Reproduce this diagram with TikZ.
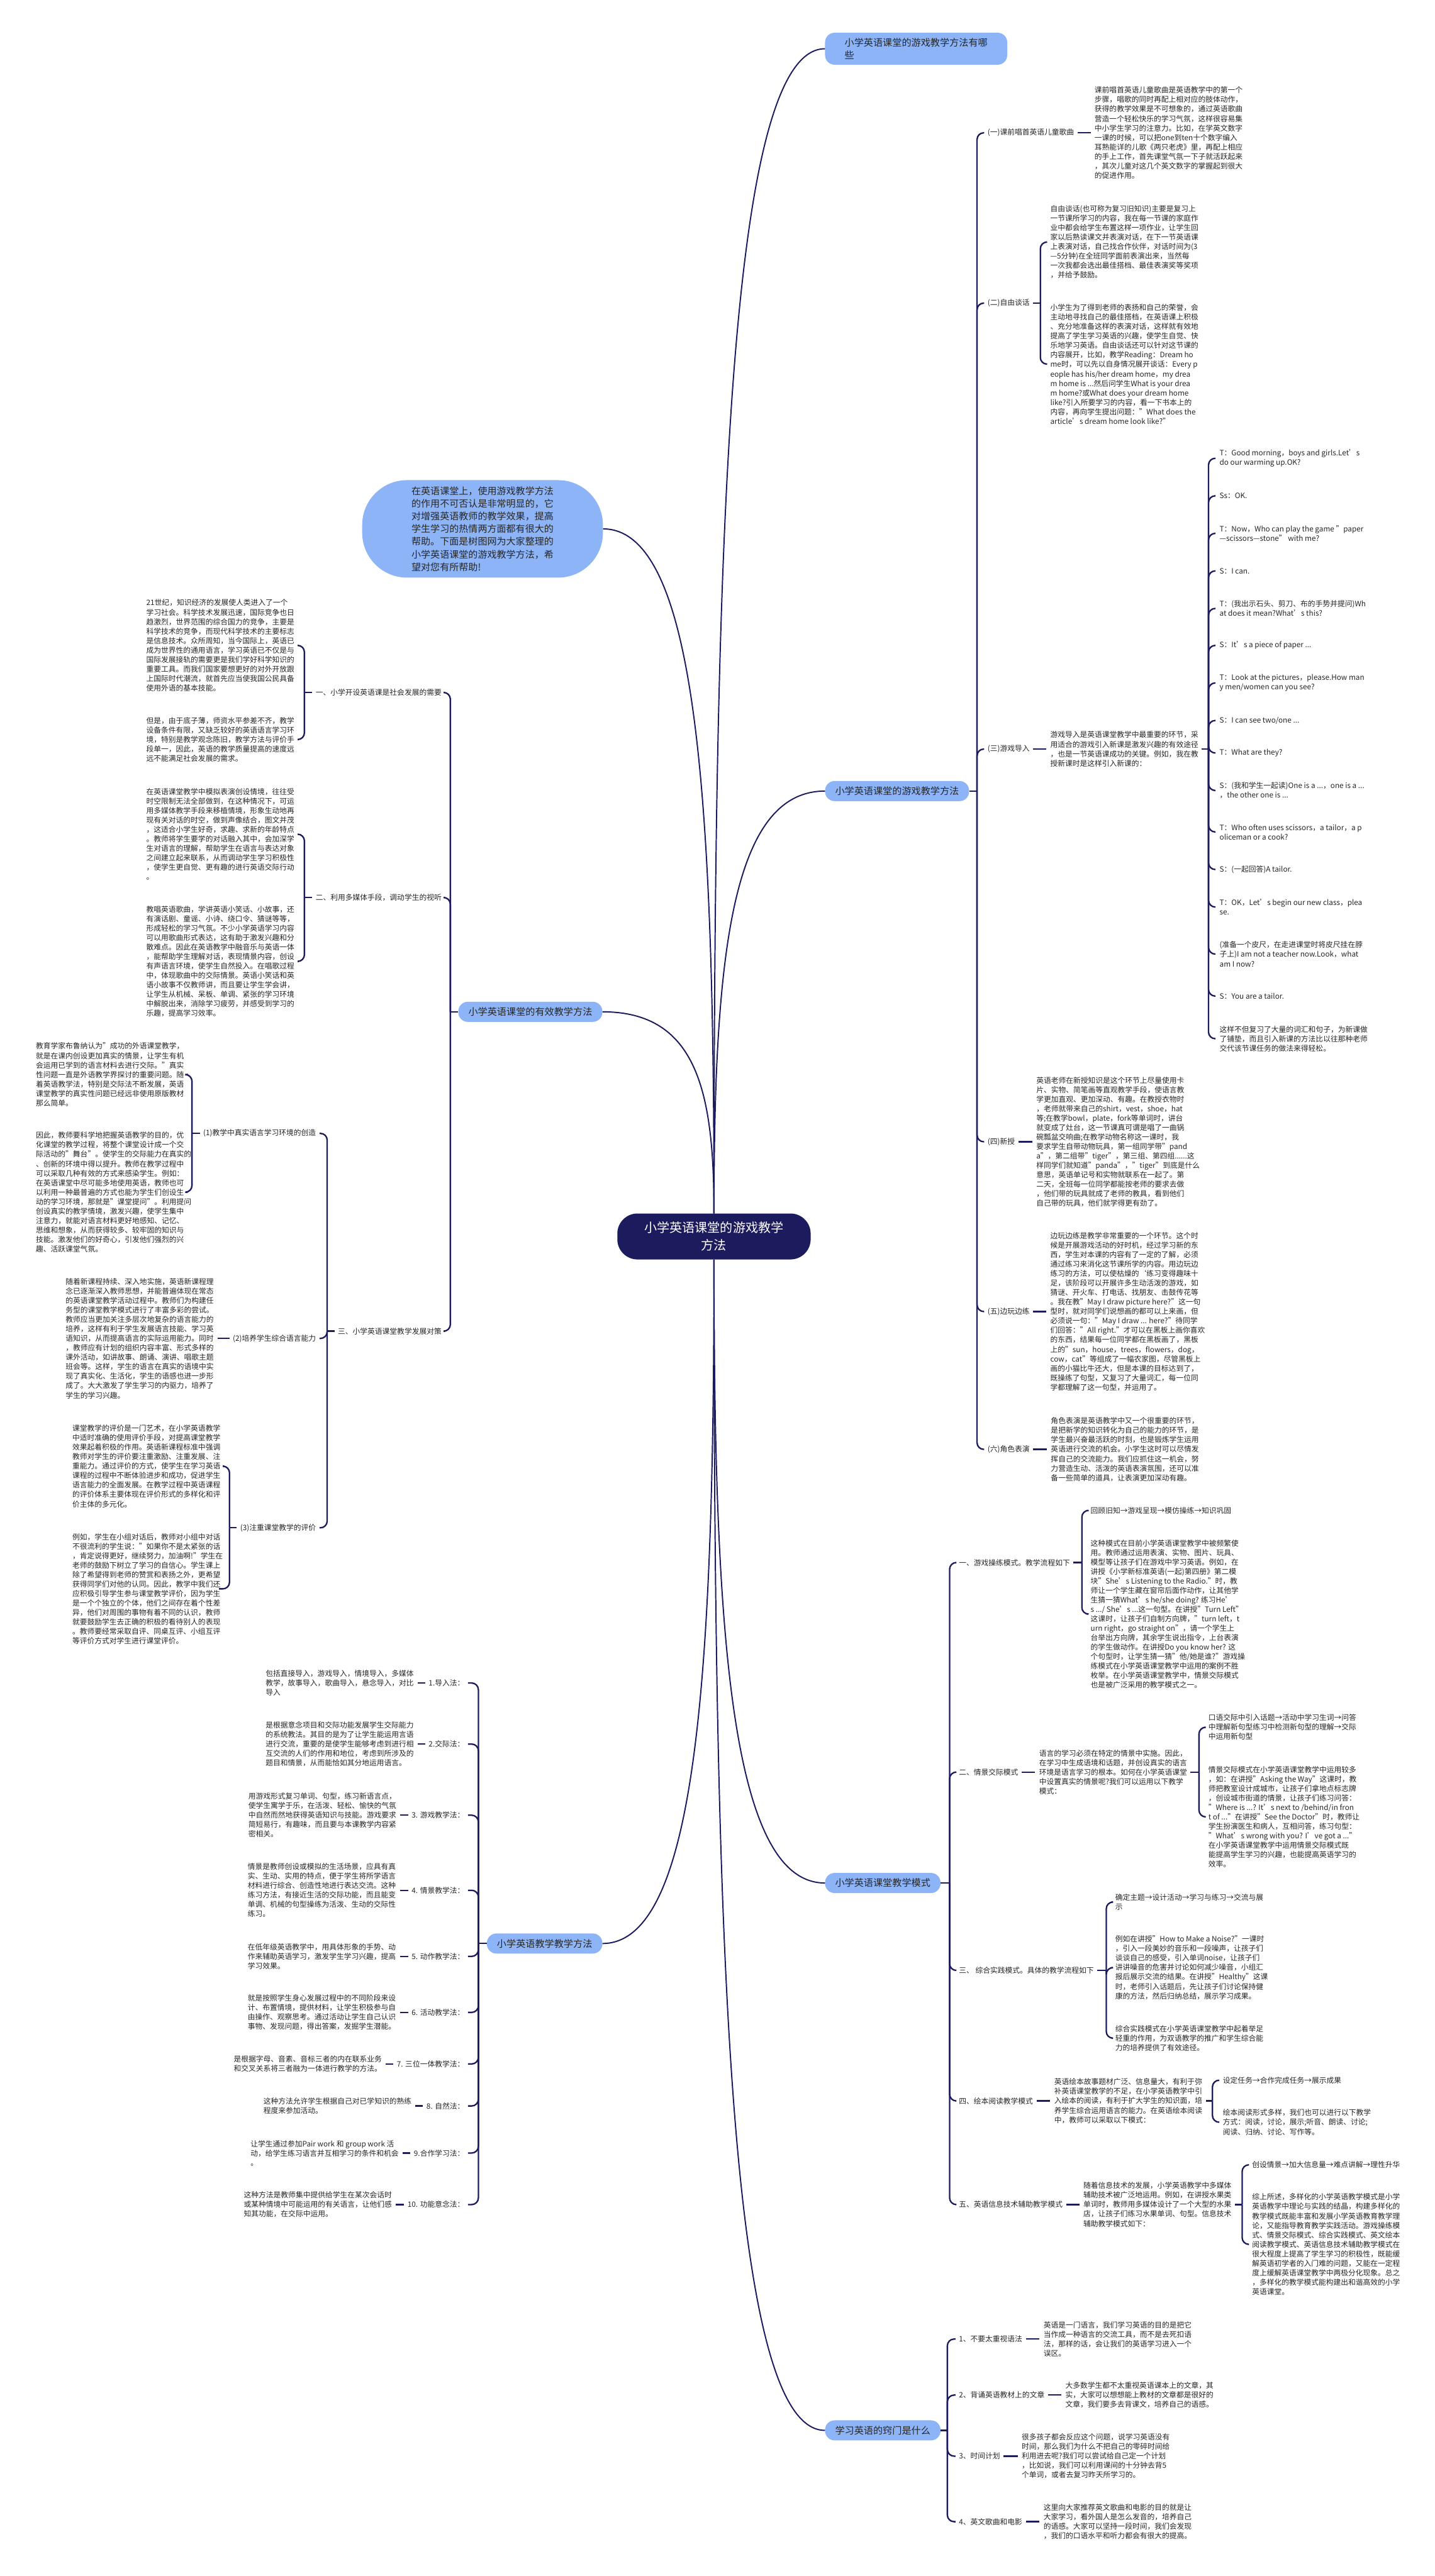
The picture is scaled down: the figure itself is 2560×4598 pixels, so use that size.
\documentclass[tikz,border=0pt]{standalone}
\usepackage{fontspec}
\setmainfont{Noto Sans CJK SC}
\usetikzlibrary{calc}
\definecolor{navy}{HTML}{1C1B5E}
\definecolor{topicblue}{HTML}{8DB4F7}
\newcommand{\leaffont}{\fontsize{13.2}{16.9}\selectfont}
\newcommand{\topicfont}{\fontsize{17}{21.7}\selectfont}
\newcommand{\branchto}[2]{\draw[branch] let \p1=(#1), \p2=(#2) in (\p1) .. controls (\x1,{0.4*\y1+0.6*\y2}) and ({0.85*\x1+0.15*\x2},\y2) .. (\p2);}
\tikzset{
    rootnode/.style={fill=navy, text=white, rounded corners=36pt, font=\fontsize{22.6}{31}\selectfont, align=center, minimum width=345pt, minimum height=82pt},
    topic/.style={fill=topicblue, rounded corners=17pt, font=\topicfont, inner xsep=18pt, inner ysep=10pt, text=black!85},
    callout/.style={fill=topicblue, rounded corners=80pt, font=\fontsize{16.9}{22.7}\selectfont, align=left, inner xsep=88pt, inner ysep=11pt, text=black!85},
    lbl/.style={font=\leaffont, inner sep=0pt, text=black!85},
    lblr/.style={lbl, anchor=west},
    lbll/.style={lbl, anchor=east},
    leaf/.style={font=\leaffont, align=left, inner sep=0pt, anchor=west, text=black!85},
    branch/.style={draw=navy, line width=2.2pt},
    fork/.style={draw=navy, line width=2.6pt, rounded corners=12pt},
    dashline/.style={fork, shorten <=6pt, shorten >=7pt},
}
\begin{document}
\begin{tikzpicture}[x=1pt,y=-1pt]
\useasboundingbox (0,0) rectangle (2560,4598);
\fill[white] (0,0) rectangle (2560,4598);

% centre and main topics
\node[rootnode] (root) at (1274,2207) {小学英语课堂的游戏教学\\方法};
\node[topic, anchor=west, align=left, inner xsep=35pt] (R1) at (1472,87) {小学英语课堂的游戏教学方法有哪\\些};
\node[topic, anchor=west] (R2) at (1472,1412) {小学英语课堂的游戏教学方法};
\node[topic, anchor=west] (R3) at (1472,3361) {小学英语课堂教学模式};
\node[topic, anchor=west] (R4) at (1472,4338) {学习英语的窍门是什么};
\node[callout, anchor=east] (L1) at (1076,944) {在英语课堂上，使用游戏教学方法\\的作用不可否认是非常明显的，它\\对增强英语教师的教学效果，提高\\学生学习的热情两方面都有很大的\\帮助。下面是树图网为大家整理的\\小学英语课堂的游戏教学方法，希\\望对您有所帮助!};
\node[topic, anchor=east] (L2) at (1075,1806) {小学英语课堂的有效教学方法};
\node[topic, anchor=east] (L3) at (1075,3469) {小学英语教学教学方法};

\branchto{root.north}{R1.west}
\branchto{root.north}{R2.west}
\branchto{root.north}{L1.east}
\branchto{root.north}{L2.east}
\branchto{root.south}{R3.west}
\branchto{root.south}{R4.west}
\branchto{root.south}{L3.east}

% ---- R2
\node[lblr] (g1) at (1762,237) {(一)课前唱首英语儿童歌曲};
\node[lblr] (g2) at (1762,541) {(二)自由谈话};
\node[lblr] (g3) at (1762,1337) {(三)游戏导入};
\node[lblr] (g4) at (1762,2038) {(四)新授};
\node[lblr] (g5) at (1762,2341) {(五)边玩边练};
\node[lblr] (g6) at (1762,2587) {(六)角色表演};
\draw[fork] (R2.east) -- ++(14,0) coordinate (jR2);
\foreach \n in {g1,g2,g3,g4,g5,g6} \draw[fork, shorten >=6pt] (jR2) |- (\n.west);

\node[leaf] (g1t) at (1953,237) {课前唱首英语儿童歌曲是英语教学中的第一个\\步骤，唱歌的同时再配上相对应的肢体动作，\\获得的教学效果是不可想象的，通过英语歌曲\\营造一个轻松快乐的学习气氛，这样很容易集\\中小学生学习的注意力。比如，在学英文数字\\一课的时候，可以把one到ten十个数字编入\\耳熟能详的儿歌《两只老虎》里，再配上相应\\的手上工作，首先课堂气氛一下子就活跃起来\\，其次儿童对这几个英文数字的掌握起到很大\\的促进作用。};
\draw[dashline] (g1.east) -- (g1t.west);

\node[leaf] (g2a) at (1874,432) {自由谈话(也可称为复习旧知识)主要是复习上\\一节课所学习的内容，我在每一节课的家庭作\\业中都会给学生布置这样一项作业，让学生回\\家以后熟读课文并表演对话，在下一节英语课\\上表演对话，自己找合作伙伴，对话时间为(3\\—5分钟)在全班同学面前表演出来，当然每\\一次我都会选出最佳搭档、最佳表演奖等奖项\\，并给予鼓励。};
\node[leaf] (g2b) at (1874,650) {小学生为了得到老师的表扬和自己的荣誉，会\\主动地寻找自己的最佳搭档，在英语课上积极\\、充分地准备这样的表演对话，这样就有效地\\提高了学生学习英语的兴趣，使学生自觉、快\\乐地学习英语。自由谈话还可以针对这节课的\\内容展开，比如，教学Reading：Dream ho\\me时，可以先以自身情况展开谈话：Every p\\eople has his/her dream home，my drea\\m home is ...然后问学生What is your drea\\m home?或What does your dream home\\like?引入所要学习的内容，看一下书本上的\\内容，再向学生提出问题："What does the\\article’s dream home look like?"};
\draw[fork, shorten <=6pt] (g2.east) -- ++(19,0) coordinate (jg2);
\foreach \n in {g2a,g2b} \draw[fork, shorten >=7pt] (jg2) |- (\n.west);

\node[leaf] (g3t) at (1874,1337) {游戏导入是英语课堂教学中最重要的环节，采\\用适合的游戏引入新课是激发兴趣的有效途径\\，也是一节英语课成功的关键。例如，我在教\\授新课时是这样引入新课的：};
\draw[dashline] (g3.east) -- (g3t.west);
\node[leaf] (d1) at (2176,818) {T：Good morning，boys and girls.Let’s\\do our warming up.OK?};
\node[leaf] (d2) at (2176,885) {Ss：OK.};
\node[leaf] (d3) at (2176,952) {T：Now，Who can play the game "paper\\—scissors—stone" with me?};
\node[leaf] (d4) at (2176,1019) {S：I can.};
\node[leaf] (d5) at (2176,1086) {T：(我出示石头、剪刀、布的手势并提问)Wh\\at does it mean?What’s this?};
\node[leaf] (d6) at (2176,1152) {S：It’s a piece of paper ...};
\node[leaf] (d7) at (2176,1219) {T：Look at the pictures，please.How man\\y men/women can you see?};
\node[leaf] (d8) at (2176,1286) {S：I can see two/one ...};
\node[leaf] (d9) at (2176,1344) {T：What are they?};
\node[leaf] (d10) at (2176,1411) {S：(我和学生一起读)One is a ...，one is a ...\\，the other one is ...};
\node[leaf] (d11) at (2176,1485) {T：Who often uses scissors，a tailor，a p\\oliceman or a cook?};
\node[leaf] (d12) at (2176,1552) {S：(一起回答)A tailor.};
\node[leaf] (d13) at (2176,1619) {T：OK，Let’s begin our new class，plea\\se.};
\node[leaf] (d14) at (2176,1703) {(准备一个皮尺，在走进课堂时将皮尺挂在脖\\子上)I am not a teacher now.Look，what\\am I now?};
\node[leaf] (d15) at (2176,1778) {S：You are a tailor.};
\node[leaf] (d16) at (2176,1854) {这样不但复习了大量的词汇和句子，为新课做\\了铺垫，而且引入新课的方法比以往那种老师\\交代该节课任务的做法来得轻松。};
\draw[fork, shorten <=6pt] (g3t.east) -- ++(18,0) coordinate (jg3);
\foreach \i in {1,...,16} \draw[fork, shorten >=7pt] (jg3) |- (d\i.west);

\node[leaf] (g4t) at (1849,2038) {英语老师在新授知识是这个环节上尽量使用卡\\片、实物、简笔画等直观教学手段，使语言教\\学更加直观、更加深动、有趣。在教授衣物时\\，老师就带来自己的shirt，vest，shoe，hat\\等;在教学bowl，plate，fork等单词时，讲台\\就变成了灶台，这一节课真可谓是唱了一曲锅\\碗瓢盆交响曲;在教学动物名称这一课时，我\\要求学生自带动物玩具，第一组同学带"pand\\a"，第二组带"tiger"，第三组、第四组......这\\样同学们就知道"panda"，"tiger"到底是什么\\意思，英语单记号和实物就联系在一起了。第\\二天，全班每一位同学都能按老师的要求去做\\，他们带的玩具就成了老师的教具，看到他们\\自己带的玩具，他们就学得更有劲了。};
\draw[dashline] (g4.east) -- (g4t.west);
\node[leaf] (g5t) at (1874,2341) {边玩边练是教学非常重要的一个环节。这个时\\候是开展游戏活动的好时机，经过学习新的东\\西，学生对本课的内容有了一定的了解，必须\\通过练习来消化这节课所学的内容。用边玩边\\练习的方法，可以使枯燥的`练习变得趣味十\\足，该阶段可以开展许多生动活泼的游戏，如\\猜谜、开火车、打电话、找朋友、击鼓传花等\\。我在教"May I draw picture here?"这一句\\型时，就对同学们说想画的都可以上来画，但\\必须说一句："May I draw ... here?"待同学\\们回答："All right."才可以在黑板上画你喜欢\\的东西，结果每一位同学都在黑板画了，黑板\\上的"sun，house，trees，flowers，dog，\\cow，cat"等组成了一幅农家图，尽管黑板上\\画的小猫比牛还大，但是本课的目标达到了，\\既操练了句型，又复习了大量词汇，每一位同\\学都理解了这一句型，并运用了。};
\draw[dashline] (g5.east) -- (g5t.west);
\node[leaf] (g6t) at (1875,2587) {角色表演是英语教学中又一个很重要的环节，\\是把新学的知识转化为自己的能力的环节，是\\学生最兴奋最活跃的时刻，也是锻炼学生运用\\英语进行交流的机会。小学生这时可以尽情发\\挥自己的交流能力。我们应抓住这一机会，努\\力营造生动、活泼的英语表演氛围，还可以准\\备一些简单的道具，让表演更加深动有趣。};
\draw[dashline] (g6.east) -- (g6t.west);

% ---- R3
\node[lblr] (m1) at (1711,2789) {一、游戏操练模式。教学流程如下};
\node[lblr] (m2) at (1711,3163) {二、情景交际模式};
\node[lblr] (m3) at (1711,3517) {三、 综合实践模式。具体的教学流程如下};
\node[lblr] (m4) at (1711,3750) {四、绘本阅读教学模式};
\node[lblr] (m5) at (1711,3935) {五、英语信息技术辅助教学模式};
\draw[fork] (R3.east) -- ++(16,0) coordinate (jR3);
\foreach \n in {m1,m2,m3,m4,m5} \draw[fork, shorten >=6pt] (jR3) |- (\n.west);

\node[leaf] (m1a) at (1946,2696) {回顾旧知→游戏呈现→模仿操练→知识巩固};
\node[leaf] (m1b) at (1946,2881) {这种模式在目前小学英语课堂教学中被频繁使\\用。教师通过运用表演、实物、图片、玩具、\\模型等让孩子们在游戏中学习英语。例如，在\\讲授《小学新标准英语(一起)第四册》第二模\\块"She’s Listening to the Radio."时，教\\师让一个学生藏在窗帘后面作动作，让其他学\\生猜一猜What’s he/she doing? 练习He’\\s .../ She’s ...这一句型。在讲授"Turn Left"\\这课时，让孩子们自制方向牌，"turn left，t\\urn right，go straight on"，请一个学生上\\台举出方向牌，其余学生说出指令，上台表演\\的学生做动作。在讲授Do you know her? 这\\个句型时，让学生猜一猜"他/她是谁?"游戏操\\练模式在小学英语课堂教学中运用的案例不胜\\枚举。在小学英语课堂教学中，情景交际模式\\也是被广泛采用的教学模式之一。};
\draw[fork, shorten <=6pt] (m1.east) -- ++(21,0) coordinate (jm1);
\foreach \n in {m1a,m1b} \draw[fork, shorten >=7pt] (jm1) |- (\n.west);

\node[leaf] (m2t) at (1854,3163) {语言的学习必须在特定的情景中实施。因此，\\在学习中生成语境和话题，并创设真实的语言\\环境是语言学习的根本。如何在小学英语课堂\\中设置真实的情景呢?我们可以运用以下教学\\模式：};
\draw[dashline] (m2.east) -- (m2t.west);
\node[leaf] (m2a) at (2156,3083) {口语交际中引入话题→活动中学习生词→问答\\中理解新句型练习中检测新句型的理解→交际\\中运用新句型};
\node[leaf] (m2b) at (2156,3243) {情景交际模式在小学英语课堂教学中运用较多\\，如：在讲授"Asking the Way"这课时，教\\师把教室设计成城市，让孩子们拿地点标志牌\\，创设城市街道的情景，让孩子们练习问答：\\"Where is ...? It’s next to /behind/in fron\\t of ..."在讲授"See the Doctor"时，教师让\\学生扮演医生和病人，互相问答，练习句型：\\"What’s wrong with you? I’ve got a ..."\\ 在小学英语课堂教学中运用情景交际模式既\\能提高学生学习的兴趣，也能提高英语学习的\\效率。};
\draw[fork, shorten <=6pt] (m2t.east) -- ++(21,0) coordinate (jm2);
\foreach \n in {m2a,m2b} \draw[fork, shorten >=7pt] (jm2) |- (\n.west);

\node[leaf] (m3a) at (1990,3395) {确定主题→设计活动→学习与练习→交流与展\\示};
\node[leaf] (m3b) at (1990,3512) {例如在讲授"How to Make a Noise?"一课时\\，引入一段美妙的音乐和一段噪声，让孩子们\\谈谈自己的感受，引入单词noise，让孩子们\\讲讲噪音的危害并讨论如何减少噪音，小组汇\\报后展示交流的结果。在讲授"Healthy"这课\\时，老师引入话题后，先让孩子们讨论保持健\\康的方法，然后归纳总结，展示学习成果。};
\node[leaf] (m3c) at (1990,3638) {综合实践模式在小学英语课堂教学中起着举足\\轻重的作用，为双语教学的推广和学生综合能\\力的培养提供了有效途径。};
\draw[fork, shorten <=6pt] (m3.east) -- ++(22,0) coordinate (jm3);
\foreach \n in {m3a,m3b,m3c} \draw[fork, shorten >=7pt] (jm3) |- (\n.west);

\node[leaf] (m4t) at (1881,3750) {英语绘本故事题材广泛、信息量大，有利于弥\\补英语课堂教学的不足，在小学英语教学中引\\入绘本的阅读，有利于扩大学生的知识面，培\\养学生综合运用语言的能力。在英语绘本阅读\\中，教师可以采取以下模式：};
\draw[dashline] (m4.east) -- (m4t.west);
\node[leaf] (m4a) at (2182,3713) {设定任务→合作完成任务→展示成果};
\node[leaf] (m4b) at (2182,3788) {绘本阅读形式多样，我们也可以进行以下教学\\方式：阅读，讨论，展示;听音、朗读、讨论;\\阅读、归纳、讨论、写作等。};
\draw[fork, shorten <=6pt] (m4t.east) -- ++(18,0) coordinate (jm4);
\foreach \n in {m4a,m4b} \draw[fork, shorten >=7pt] (jm4) |- (\n.west);

\node[leaf] (m5t) at (1933,3935) {随着信息技术的发展，小学英语教学中多媒体\\辅助技术被广泛地运用。例如，在讲授水果类\\单词时，教师用多媒体设计了一个大型的水果\\店，让孩子们练习水果单词、句型。信息技术\\辅助教学模式如下：};
\draw[dashline] (m5.east) -- (m5t.west);
\node[leaf] (m5a) at (2234,3864) {创设情景→加大信息量→难点讲解→理性升华};
\node[leaf] (m5b) at (2234,4006) {综上所述，多样化的小学英语教学模式是小学\\英语教学中理论与实践的结晶，构建多样化的\\教学模式既能丰富和发展小学英语教育教学理\\论，又能指导教育教学实践活动。游戏操练模\\式、情景交际模式、综合实践模式、英文绘本\\阅读教学模式、英语信息技术辅助教学模式在\\很大程度上提高了学生学习的积极性，既能缓\\解英语初学者的入门难的问题，又能在一定程\\度上缓解英语课堂教学中两极分化现象。总之\\，多样化的教学模式能构建出和谐高效的小学\\英语课堂。};
\draw[fork, shorten <=6pt] (m5t.east) -- ++(19,0) coordinate (jm5);
\foreach \n in {m5a,m5b} \draw[fork, shorten >=7pt] (jm5) |- (\n.west);

% ---- R4
\node[lblr] (t1) at (1711,4175) {1、不要太重视语法};
\node[lblr] (t2) at (1711,4275) {2、背诵英语教材上的文章};
\node[lblr] (t3) at (1711,4384) {3、时间计划};
\node[lblr] (t4) at (1711,4501) {4、英文歌曲和电影};
\draw[fork] (R4.east) -- ++(12,0) coordinate (jR4);
\foreach \n in {t1,t2,t3,t4} \draw[fork, shorten >=6pt] (jR4) |- (\n.west);
\node[leaf] (tt1) at (1862,4175) {英语是一门语言，我们学习英语的目的是把它\\当作成一种语言的交流工具，而不是去死扣语\\法，那样的话，会让我们的英语学习进入一个\\误区。};
\node[leaf] (tt2) at (1901,4275) {大多数学生都不太重视英语课本上的文章，其\\实，大家可以想想能上教材的文章都是很好的\\文章，我们要多去背课文，培养自己的语感。};
\node[leaf] (tt3) at (1823,4384) {很多孩子都会反应这个问题，说学习英语没有\\时间，那么我们为什么不把自己的零碎时间给\\利用进去呢?我们可以尝试给自己定一个计划\\，比如说，我们可以利用课间的十分钟去背5\\个单词，或者去复习昨天所学习的。};
\node[leaf] (tt4) at (1862,4501) {这里向大家推荐英文歌曲和电影的目的就是让\\大家学习，看外国人是怎么发音的，培养自己\\的语感。大家可以坚持一段时间，我们会发现\\，我们的口语水平和听力都会有很大的提高。};
\foreach \i in {1,...,4} \draw[dashline] (t\i.east) -- (tt\i.west);

% ---- L2
\node[lbll] (s1) at (788,1236) {一、小学开设英语课是社会发展的需要};
\node[lbll] (s2) at (788,1602) {二、利用多媒体手段，调动学生的视听};
\node[lbll] (s3) at (788,2376) {三、小学英语课堂教学发展对策};
\draw[fork] (L2.west) -- ++(-14,0) coordinate (jL2);
\foreach \n in {s1,s2,s3} \draw[fork, shorten >=6pt] (jL2) |- (\n.east);

\node[leaf] (s1a) at (261,1152) {21世纪，知识经济的发展使人类进入了一个\\学习社会。科学技术发展迅速，国际竞争也日\\趋激烈，世界范围的综合国力的竞争，主要是\\科学技术的竞争，而现代科学技术的主要标志\\是信息技术。众所周知，当今国际上，英语已\\成为世界性的通用语言，学习英语已不仅是与\\国际发展接轨的需要更是我们学好科学知识的\\重要工具。而我们国家要想更好的对外开放跟\\上国际时代潮流，就首先应当使我国公民具备\\使用外语的基本技能。};
\node[leaf] (s1b) at (261,1320) {但是，由于底子薄，师资水平参差不齐，教学\\设备条件有限，又缺乏较好的英语语言学习环\\境，特别是教学观念陈旧，教学方法与评价手\\段单一，因此，英语的教学质量提高的速度远\\远不能满足社会发展的需求。};
\draw[fork, shorten <=6pt] (s1.west) -- ++(-20,0) coordinate (js1);
\foreach \n in {s1a,s1b} \draw[fork, shorten >=7pt] (js1) |- (\n.east);

\node[leaf] (s2a) at (261,1489) {在英语课堂教学中模拟表演创设情境，往往受\\时空限制无法全部做到，在这种情况下，可运\\用多媒体教学手段来移植情境，形象生动地再\\现有关对话的时空，做到声像结合，图文并茂\\，这适合小学生好奇，求趣、求新的年龄特点\\。教师将学生要学的对话融入其中，会加深学\\生对语言的理解，帮助学生在语言与表达对象\\之间建立起来联系，从而调动学生学习积极性\\，使学生更自觉、更有趣的进行英语交际行动\\。};
\node[leaf] (s2b) at (261,1716) {教唱英语歌曲，学讲英语小笑话、小故事，还\\有演话剧、童谣、小诗、绕口令、猜谜等等，\\形成轻松的学习气氛。不少小学英语学习内容\\可以用歌曲形式表达，这有助于激发兴趣和分\\散难点。因此在英语教学中融音乐与英语一体\\，能帮助学生理解对话，表现情景内容，创设\\有声语言环境，使学生自然投入。在唱歌过程\\中，体现歌曲中的交际情景。英语小笑话和英\\语小故事不仅教师讲，而且要让学生学会讲，\\让学生从机械、呆板、单调、紧张的学习环境\\中解脱出来，消除学习疲劳，并感受到学习的\\乐趣，提高学习效率。};
\draw[fork, shorten <=6pt] (s2.west) -- ++(-20,0) coordinate (js2);
\foreach \n in {s2a,s2b} \draw[fork, shorten >=7pt] (js2) |- (\n.east);

\node[lbll] (p1) at (564,2023) {(1)教学中真实语言学习环境的创造};
\node[lbll] (p2) at (564,2389) {(2)培养学生综合语言能力};
\node[lbll] (p3) at (564,2727) {(3)注重课堂教学的评价};
\draw[fork, shorten <=6pt] (s3.west) -- ++(-19,0) coordinate (js3);
\foreach \n in {p1,p2,p3} \draw[fork, shorten >=6pt] (js3) |- (\n.east);

\node[leaf] (p1a) at (64,1918) {教育学家布鲁纳认为"成功的外语课堂教学，\\就是在课内创设更加真实的情景，让学生有机\\会运用已学到的语言材料去进行交际。"真实\\性问题一直是外语教学界探讨的重要问题。随\\着英语教学法，特别是交际法不断发展，英语\\课堂教学的真实性问题已经远非使用原版教材\\那么简单。};
\node[leaf] (p1b) at (64,2128) {因此，教师要科学地把握英语教学的目的，优\\化课堂的教学过程，将整个课堂设计成一个交\\际活动的"舞台"。使学生的交际能力在真实的\\、创新的环境中得以提升。教师在教学过程中\\可以采取几种有效的方式来感染学生。例如：\\在英语课堂中尽可能多地使用英语，教师也可\\以利用一种最普遍的方式也能为学生们创设生\\动的学习环境，那就是"课堂提问"。利用提问\\创设真实的教学情境，激发兴趣，使学生集中\\注意力，就能对语言材料更好地感知、记忆、\\思维和想象，从而获得较多、较牢固的知识与\\技能。激发他们的好奇心，引发他们强烈的兴\\趣、活跃课堂气氛。};
\draw[fork, shorten <=6pt] (p1.west) -- ++(-20,0) coordinate (jp1);
\foreach \n in {p1a,p1b} \draw[fork, shorten >=7pt] (jp1) |- (\n.east);

\node[leaf] (p2t) at (117,2389) {随着新课程持续、深入地实施，英语新课程理\\念已逐渐深入教师思想，并能普遍体现在常态\\的英语课堂教学活动过程中。教师们为构建任\\务型的课堂教学模式进行了丰富多彩的尝试。\\教师应当更加关注多层次地复杂的语言能力的\\培养，这样有利于学生发展语言技能、学习英\\语知识，从而提高语言的实际运用能力。同时\\，教师应有计划的组织内容丰富、形式多样的\\课外活动，如讲故事、朗诵、演讲、唱歌主题\\班会等。这样，学生的语言在真实的语境中实\\现了真实化、生活化，学生的语感也进一步形\\成了。大大激发了学生学习的内驱力，培养了\\学生的学习兴趣。};
\draw[dashline] (p2.west) -- (p2t.east);

\node[leaf] (p3a) at (129,2617) {课堂教学的评价是一门艺术，在小学英语教学\\中适时准确的使用评价手段，对提高课堂教学\\效果起着积极的作用。英语新课程标准中强调\\教师对学生的评价要注重激励、注重发展、注\\重能力。通过评价的方式，使学生在学习英语\\课程的过程中不断体验进步和成功，促进学生\\语言能力的全面发展。在教学过程中英语课程\\的评价体系主要体现在评价形式的多样化和评\\价主体的多元化。};
\node[leaf] (p3b) at (129,2836) {例如，学生在小组对话后，教师对小组中对话\\不很流利的学生说："如果你不是太紧张的话\\，肯定说得更好，继续努力，加油啊!"学生在\\老师的鼓励下树立了学习的自信心。学生课上\\除了希望得到老师的赞赏和表扬之外，更希望\\获得同学们对他的认同。因此，教学中我们还\\应积极引导学生参与课堂教学评价，因为学生\\是一个个独立的个体，他们之间存在着个性差\\异，他们对周围的事物有着不同的认识，教师\\就要鼓励学生去正确的积极的看待别人的表现\\。教师要经常采取自评、同桌互评、小组互评\\等评价方式对学生进行课堂评价。};
\draw[fork, shorten <=6pt] (p3.west) -- ++(-19,0) coordinate (jp3);
\foreach \n in {p3a,p3b} \draw[fork, shorten >=7pt] (jp3) |- (\n.east);

% ---- L3
\node[lbll] (f1) at (829,3004) {1.导入法：};
\node[lbll] (f2) at (829,3113) {2.交际法：};
\node[lbll] (f3) at (829,3240) {3. 游戏教学法：};
\node[lbll] (f4) at (829,3374) {4. 情景教学法：};
\node[lbll] (f5) at (829,3492) {5. 动作教学法：};
\node[lbll] (f6) at (829,3592) {6. 活动教学法：};
\node[lbll] (f7) at (829,3684) {7. 三位一体教学法：};
\node[lbll] (f8) at (829,3759) {8. 自然法：};
\node[lbll] (f9) at (829,3843) {9.合作学习法：};
\node[lbll] (f10) at (829,3935) {10. 功能意念法：};
\draw[fork] (L3.west) -- ++(-15,0) coordinate (jL3);
\foreach \i in {1,...,10} \draw[fork, shorten >=6pt] (jL3) |- (f\i.east);

\node[leaf] (ff1) at (474,3004) {包括直接导入，游戏导入，情境导入，多媒体\\教学，故事导入，歌曲导入，悬念导入，对比\\导入};
\node[leaf] (ff2) at (474,3113) {是根据意念项目和交际功能发展学生交际能力\\的系统教法。其目的是为了让学生能运用言语\\进行交流，重要的是使学生能够考虑到进行相\\互交流的人们的作用和地位，考虑到所涉及的\\题目和情景，从而能恰如其分地运用语言。};
\node[leaf] (ff3) at (443,3240) {用游戏形式复习单词、句型，练习新语言点，\\使学生寓学于乐，在活泼、轻松、愉快的气氛\\中自然而然地获得英语知识与技能。游戏要求\\简短易行，有趣味，而且要与本课教学内容紧\\密相关。};
\node[leaf] (ff4) at (442,3374) {情景是教师创设或模拟的生活场景，应具有真\\实、生动、实用的特点，便于学生将所学语言\\材料进行综合、创造性地进行表达交流。这种\\练习方法，有接近生活的交际功能，而且能变\\单调、机械的句型操练为活泼、生动的交际性\\练习。};
\node[leaf] (ff5) at (442,3492) {在低年级英语教学中，用具体形象的手势、动\\作来辅助英语学习，激发学生学习兴趣，提高\\学习效果。};
\node[leaf] (ff6) at (442,3592) {就是按照学生身心发展过程中的不同阶段来设\\计、布置情境，提供材料，让学生积极参与自\\由操作、观察思考。通过活动让学生自己认识\\事物、发现问题，得出答案，发掘学生潜能。};
\node[leaf] (ff7) at (417,3684) {是根据字母、音素、音标三者的内在联系业务\\和交叉关系将三者融为一体进行教学的方法。};
\node[leaf] (ff8) at (470,3759) {这种方法允许学生根据自己对已学知识的熟练\\程度来参加活动。};
\node[leaf] (ff9) at (447,3843) {让学生通过参加Pair work 和 group work 活\\动，给学生练习语言并互相学习的条件和机会\\。};
\node[leaf] (ff10) at (435,3935) {这种方法是教师集中提供给学生在某次会话时\\或某种情境中可能运用的有关语言，让他们感\\知其功能，在交际中运用。};
\foreach \i in {1,...,10} \draw[dashline] (f\i.west) -- (ff\i.east);
\end{tikzpicture}
\end{document}
